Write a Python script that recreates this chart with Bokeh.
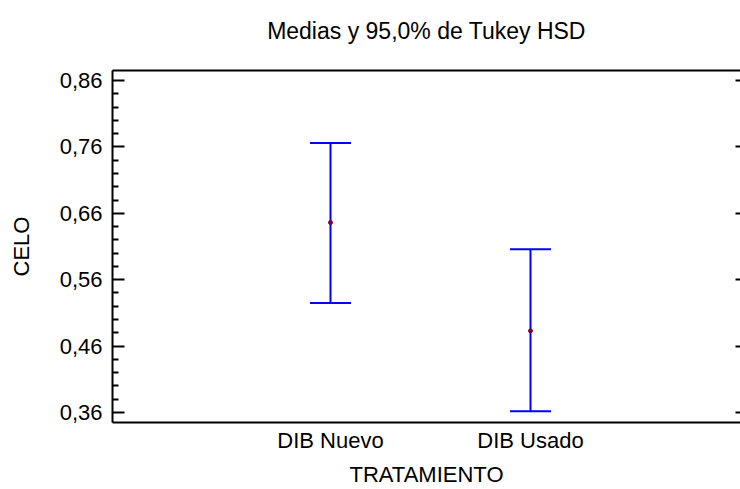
from bokeh.plotting import figure
from bokeh.models import ColumnDataSource, Whisker, TeeHead, LinearAxis, FixedTicker, Range1d
from bokeh.embed import file_html
from bokeh.resources import INLINE

# ---- data ----
treatments = ["DIB Nuevo", "DIB Usado"]
positions = [1, 2]
means = [0.646, 0.483]
lower = [0.525, 0.362]
upper = [0.766, 0.606]

y_ticks = [0.36, 0.46, 0.56, 0.66, 0.76, 0.86]
y_tick_labels = ["0,36", "0,46", "0,56", "0,66", "0,76", "0,86"]
y_minor = [0.38, 0.40, 0.42, 0.44, 0.48, 0.50, 0.52, 0.54, 0.58, 0.60, 0.62, 0.64,
           0.68, 0.70, 0.72, 0.74, 0.78, 0.80, 0.82, 0.84]

title_text = "Medias y 95,0% de Tukey HSD"
x_label = "TRATAMIENTO"
y_label = "CELO"

FONT = "Liberation Sans"
FS = "22px"

p = figure(width=740, height=489, output_backend="svg", toolbar_location=None,
           x_range=Range1d(-0.09, 3.05), y_range=Range1d(0.345, 0.875),
           min_border_left=112, min_border_top=70, min_border_bottom=67, min_border_right=0)
p.outline_line_color = None
p.xgrid.visible = False
p.ygrid.visible = False
p.background_fill_color = "white"
p.border_fill_color = "white"

# left axis
ya = p.yaxis[0]
ya.ticker = FixedTicker(ticks=y_ticks, minor_ticks=y_minor)
ya.major_label_overrides = dict(zip(y_ticks, y_tick_labels))
ya.axis_label = y_label
ya.axis_label_text_font = FONT
ya.axis_label_text_font_size = FS
ya.axis_label_text_font_style = "normal"
ya.axis_label_text_color = "black"
ya.axis_label_standoff = 23
ya.major_label_text_font = FONT
ya.major_label_text_font_size = FS
ya.major_label_text_color = "black"
ya.major_label_standoff = 10
ya.major_tick_in = 12
ya.major_tick_out = 0
ya.minor_tick_in = 6
ya.minor_tick_out = 0
ya.major_tick_line_width = 2
ya.minor_tick_line_width = 2
ya.axis_line_width = 2
ya.major_tick_line_color = "black"
ya.minor_tick_line_color = "black"
ya.axis_line_color = "black"

# bottom axis
xa = p.xaxis[0]
xa.ticker = FixedTicker(ticks=positions)
xa.major_label_overrides = dict(zip(positions, treatments))
xa.axis_label = x_label
xa.axis_label_text_font = FONT
xa.axis_label_text_font_size = FS
xa.axis_label_text_font_style = "normal"
xa.axis_label_text_color = "black"
xa.axis_label_standoff = 6
xa.major_label_text_font = FONT
xa.major_label_text_font_size = FS
xa.major_label_text_color = "black"
xa.major_label_standoff = 5
xa.major_tick_in = 0
xa.major_tick_out = 0
xa.minor_tick_in = 0
xa.minor_tick_out = 0
xa.axis_line_width = 2
xa.axis_line_color = "black"

# top border axis, carrying the chart title
ta = LinearAxis(ticker=FixedTicker(ticks=[]), major_tick_in=0, major_tick_out=0,
                minor_tick_in=0, minor_tick_out=0,
                major_label_standoff=0, axis_line_width=2, axis_line_color="black",
                axis_label=title_text, axis_label_text_font=FONT,
                axis_label_text_font_size="23px", axis_label_text_font_style="normal",
                axis_label_text_color="black", axis_label_standoff=27)
p.add_layout(ta, "above")

# right ticks
ra = LinearAxis(ticker=FixedTicker(ticks=y_ticks), major_tick_in=5, major_tick_out=0,
                minor_tick_in=0, minor_tick_out=0,
                major_label_overrides=dict(zip(y_ticks, [""] * len(y_ticks))),
                major_label_standoff=0, axis_line_color=None,
                major_tick_line_width=2, major_tick_line_color="black")
p.add_layout(ra, "right")

src = ColumnDataSource(dict(x=positions, mean=means, lower=lower, upper=upper))
w = Whisker(base="x", lower="lower", upper="upper", source=src,
            line_color="#0000FF", line_width=2,
            upper_head=TeeHead(size=41, line_color="#0000FF", line_width=2),
            lower_head=TeeHead(size=41, line_color="#0000FF", line_width=2))
p.add_layout(w)
p.scatter("x", "mean", source=src, size=4, color="#800040", line_color="#800040")

open("out.html", "w").write(file_html(p, INLINE))
